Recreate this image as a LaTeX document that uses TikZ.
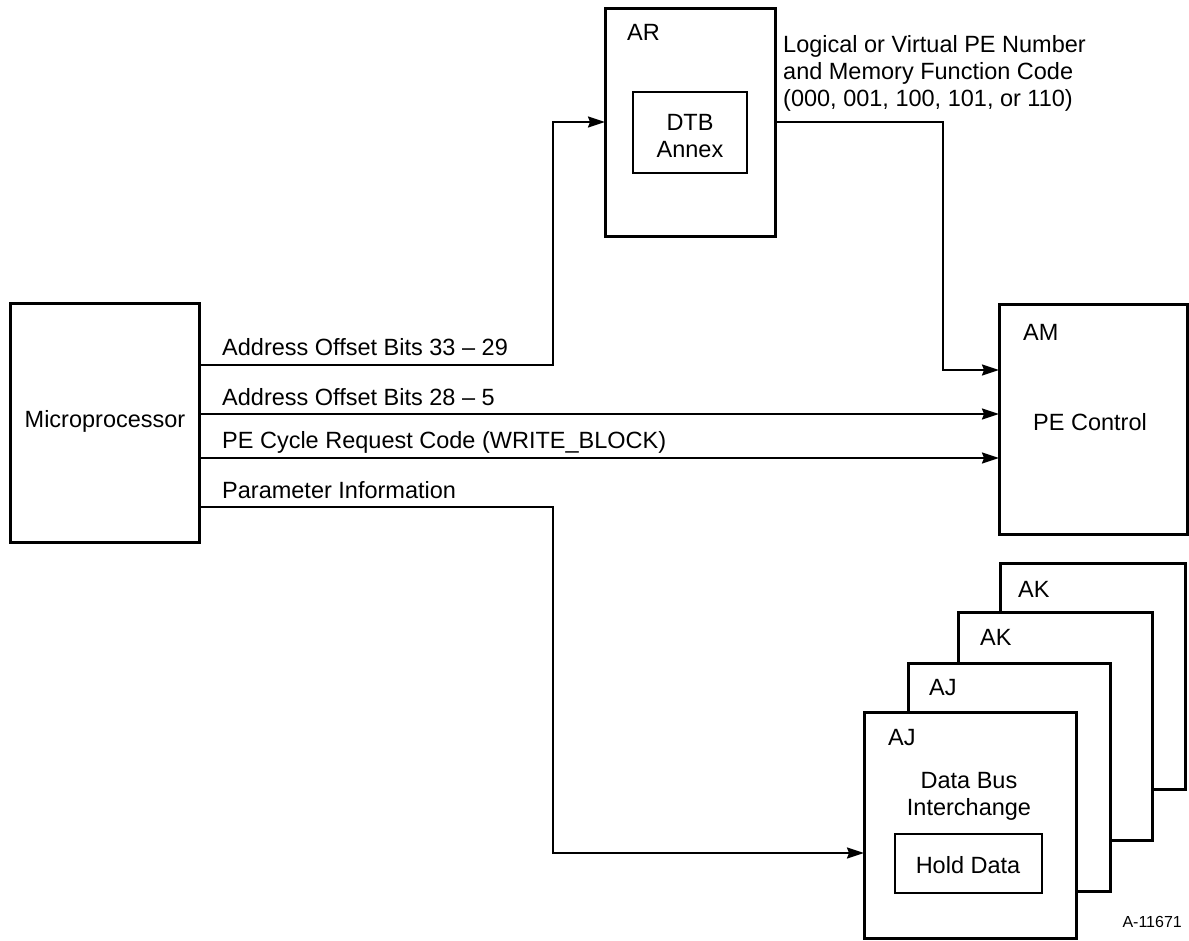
\documentclass[tikz,border=0pt]{standalone}
\usepackage{fontspec}
\setmainfont{Liberation Sans}
\usetikzlibrary{arrows.meta,calc}

\begin{document}
\begin{tikzpicture}[x=1pt,y=-1pt,
  every node/.style={font=\fontsize{23.5}{27}\selectfont},
  box/.style={draw,line width=3pt,fill=white,rectangle,inner sep=0pt,outer sep=0pt,anchor=north west},
  inbox/.style={draw,line width=2pt,fill=white,rectangle,inner sep=0pt,outer sep=0pt,anchor=north west},
  lbl/.style={inner sep=0pt,anchor=base west},
  ctr/.style={inner sep=0pt,anchor=base,align=center},
  wire/.style={line width=2pt},
  arr/.style={wire,-{Stealth[length=17pt,width=11pt,inset=2pt]}},
]
\useasboundingbox (0,0) rectangle (1189,940);

% main blocks
\node[box,minimum width=189pt,minimum height=239pt] (mp) at (10,303) {};
\node[ctr] (mptxt) at (105,427) {Microprocessor};

\node[box,minimum width=170pt,minimum height=228pt] (ar) at (605,8) {};
\node[lbl] (arl) at (627,40) {AR};
\node[inbox,minimum width=114pt,minimum height=81pt] (dtb) at (633,92) {};
\node[ctr] (dtbtxt) at (690,157) {DTB\\Annex};

\node[box,minimum width=188pt,minimum height=230pt] (am) at (999,304) {};
\node[lbl] (aml) at (1023,340) {AM};
\node[lbl] (amtxt) at (1033,430) {PE Control};

% stacked data bus interchange boards, back to front
\node[box,minimum width=185pt,minimum height=226pt] (ak2) at (1000,563) {};
\node[lbl] (ak2l) at (1018,597) {AK};
\node[box,minimum width=194pt,minimum height=228pt] (ak1) at (958,612) {};
\node[lbl] (ak1l) at (980,645) {AK};
\node[box,minimum width=202pt,minimum height=228pt] (aj2) at (908,663) {};
\node[lbl] (aj2l) at (929,695) {AJ};
\node[box,minimum width=212pt,minimum height=226pt] (aj) at (864,712) {};
\node[lbl] (ajl) at (888,745) {AJ};
\node[ctr] (dbi) at (969,815) {Data Bus\\Interchange};
\node[inbox,minimum width=147pt,minimum height=59pt] (hold) at (895,834) {};
\node[ctr] (holdtxt) at (968,873) {Hold Data};

% connector anchor points
\path (mp.north east) ++(0,62) coordinate (o1);
\path (mp.north east) ++(0,111) coordinate (o2);
\path (mp.north east) ++(0,155) coordinate (o3);
\path (mp.north east) ++(0,204) coordinate (o4);
\coordinate (bus) at (553,0);
\coordinate (drop) at (943,0);
\path (aj.north west) ++(0,141) coordinate (ajin);
\path (am.north west) ++(0,66) coordinate (amin);

% connectors
\draw[arr] (o1) -- (o1 -| bus) |- (ar.west);
\draw[arr] (o2) -- (o2 -| am.west);
\draw[arr] (o3) -- (o3 -| am.west);
\draw[arr] (o4) -- (o4 -| bus) |- (ajin);
\draw[arr] (ar.east) -- (ar.east -| drop) |- (amin);

% signal labels
\node[lbl] (l1) at (222,355) {Address Offset Bits 33 -- 29};
\node[lbl] (l2) at (222,405) {Address Offset Bits 28 -- 5};
\node[lbl] (l3) at (222,448) {PE Cycle Request Code (WRITE\_BLOCK)};
\node[lbl] (l4) at (222,498) {Parameter Information};
\node[inner sep=0pt,anchor=base west,align=left] (l5) at (783,106)
  {Logical or Virtual PE Number\\and Memory Function Code\\(000, 001, 100, 101, or 110)};

\node[inner sep=0pt,anchor=base east,font=\fontsize{16}{19}\selectfont] (fig) at (1182,927) {A-11671};
\end{tikzpicture}
\end{document}
